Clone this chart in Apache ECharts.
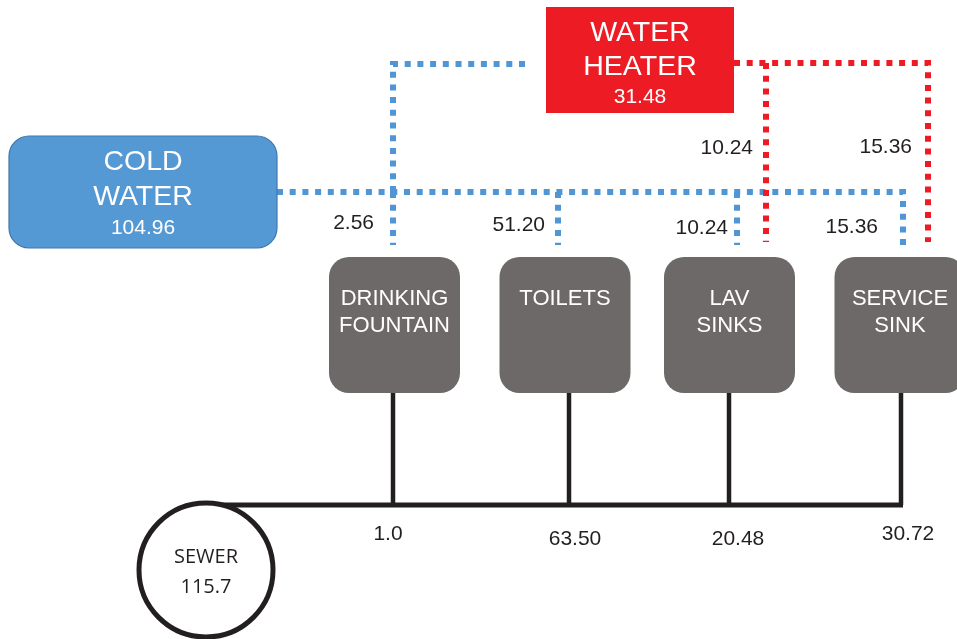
<!DOCTYPE html>
<html>
<head>
<meta charset="utf-8">
<script src="https://cdn.jsdelivr.net/npm/echarts@6/dist/echarts.min.js"></script>
<style>html,body{margin:0;padding:0;background:#fff}#c{width:957px;height:639px}</style>
</head>
<body>
<div id="c"></div>
<script>
// ---- data ----
const fixtures = ['DRINKING\nFOUNTAIN', 'TOILETS', 'LAV\nSINKS', 'SERVICE\nSINK'];
const coldWater = ['2.56', '51.20', '10.24', '15.36'];
const hotWater = [null, null, '10.24', '15.36'];
const drainage = ['1.0', '63.50', '20.48', '30.72'];
const sources = ['COLD\nWATER', 'WATER\nHEATER'];
const sourceTotals = ['104.96', '31.48'];
const sewerName = 'SEWER';
const sewerTotal = '115.7';

// ---- layout (diagram coordinate space, mapped through the axes) ----
const L = {
  box: { top: 257, bottom: 393, w: 131, r: 20, cx: [394.5, 565, 729.5, 900], textY: 299, lineGap: 27 },
  coldDropX: [393, 558, 737, 903],
  hotDropX: [null, null, 766, 928],
  drainX: [393, 569, 729, 901],
  coldMainY: 192, coldDropEnd: 245, feedY: 64, feedX: 525,
  hotMainY: 63, hotDropEnd: 242,
  drainY: 505,
  coldLabel: { x: [374, 545, 728, 878], y: [223, 225, 228, 227] },
  hotLabel: { x: [null, null, 753, 912], y: [null, null, 148, 147] },
  drainLabel: { x: [388, 575, 738, 908], y: [534, 539, 539, 534] },
  srcBox: [ { x0: 9, y0: 136, x1: 277, y1: 248, r: 20, cx: 143, ty: [162, 197, 228] },
            { x0: 546, y0: 7, x1: 734, y1: 113, r: 0, cx: 640, ty: [33, 67, 97] } ],
  sewer: { cx: 206, cy: 570, r: 67, ty: [557, 587] }
};
const C = { blue: '#5096D5', blueBox: '#5599D4', blueEdge: '#3F78AE', red: '#ED1C24', gray: '#6E6969', ink: '#231F20' };
const FONT = 'Liberation Sans, Arial, sans-serif';
const DASH = [6, 6.7];

function seg(api, pts, color) {
  return { type: 'polyline', shape: { points: pts.map(p => api.coord(p)) },
    style: { stroke: color, lineWidth: 6, lineDash: DASH, lineCap: 'butt', fill: null } };
}
function solid(api, pts, w) {
  return { type: 'polyline', shape: { points: pts.map(p => api.coord(p)) },
    style: { stroke: C.ink, lineWidth: w, lineCap: 'butt', lineJoin: 'miter', fill: null } };
}
function txt(api, s, x, y, size, color, align, family) {
  const p = api.coord([x, y]);
  return { type: 'text', x: p[0], y: p[1],
    style: { text: s, fill: color, fontSize: size, fontFamily: family || FONT, align: align || 'center', verticalAlign: 'middle' } };
}
function rrect(api, x0, y0, x1, y1, r, fill, stroke) {
  const a = api.coord([x0, y0]), b = api.coord([x1, y1]);
  return { type: 'rect', shape: { x: Math.min(a[0], b[0]), y: Math.min(a[1], b[1]), width: Math.abs(b[0] - a[0]), height: Math.abs(b[1] - a[1]), r: r },
    style: { fill: fill, stroke: stroke || null, lineWidth: stroke ? 1.2 : 0 } };
}

const chart = echarts.init(document.getElementById('c'), null, { renderer: 'canvas' });
chart.setOption({
  animation: false,
  grid: { left: 0, right: 0, top: 0, bottom: 0 },
  xAxis: { type: 'value', min: 0, max: 957, show: false },
  yAxis: { type: 'value', min: 0, max: 639, inverse: true, show: false },
  series: [
    { // supply mains and sources
      type: 'custom', name: 'sources', z: 2,
      data: sources.map((n, i) => ({ name: n, value: [i, sourceTotals[i]] })),
      renderItem: function (params, api) {
        const i = params.dataIndex, b = L.srcBox[i];
        const kids = [];
        const last = fixtures.length - 1;
        if (i === 0) {
          kids.push(seg(api, [[b.x1, L.coldMainY], [L.coldDropX[last], L.coldMainY], [L.coldDropX[last], L.coldDropEnd]], C.blue));
          kids.push(seg(api, [[L.feedX, L.feedY], [L.coldDropX[0], L.feedY], [L.coldDropX[0], L.coldMainY]], C.blue));
        } else {
          kids.push(seg(api, [[b.x1, L.hotMainY], [L.hotDropX[last], L.hotMainY], [L.hotDropX[last], L.hotDropEnd]], C.red));
        }
        kids.push(rrect(api, b.x0, b.y0, b.x1, b.y1, b.r, i === 0 ? C.blueBox : C.red, i === 0 ? C.blueEdge : null));
        const lines = sources[i].split('\n');
        lines.forEach((s, k) => kids.push(txt(api, s, b.cx, b.ty[k], 28.5, '#fff')));
        kids.push(txt(api, sourceTotals[i], b.cx, b.ty[2], 21, '#fff'));
        return { type: 'group', children: kids };
      }
    },
    { // fixtures with their branches
      type: 'custom', name: 'fixtures', z: 3,
      data: fixtures.map((n, i) => ({ name: n, value: [i, drainage[i]] })),
      renderItem: function (params, api) {
        const i = params.dataIndex, B = L.box, cx = B.cx[i];
        const kids = [];
        const last = fixtures.length - 1;
        if (i < last) kids.push(seg(api, [[L.coldDropX[i], L.coldMainY], [L.coldDropX[i], L.coldDropEnd]], C.blue));
        kids.push(txt(api, coldWater[i], L.coldLabel.x[i], L.coldLabel.y[i], 21, C.ink, 'right'));
        if (hotWater[i] != null) {
          if (i < last) kids.push(seg(api, [[L.hotDropX[i], L.hotMainY], [L.hotDropX[i], L.hotDropEnd]], C.red));
          kids.push(txt(api, hotWater[i], L.hotLabel.x[i], L.hotLabel.y[i], 21, C.ink, 'right'));
        }
        kids.push(solid(api, [[L.drainX[i], B.bottom - 2], [L.drainX[i], L.drainY]], 4.5));
        kids.push(rrect(api, cx - B.w / 2, B.top, cx + B.w / 2, B.bottom, B.r, C.gray));
        fixtures[i].split('\n').forEach((s, k) => kids.push(txt(api, s, cx, B.textY + k * B.lineGap, 22, '#fff')));
        kids.push(txt(api, drainage[i], L.drainLabel.x[i], L.drainLabel.y[i], 21, C.ink));
        return { type: 'group', children: kids };
      }
    },
    { // sewer
      type: 'custom', name: 'sewer', z: 4,
      data: [{ name: sewerName, value: [0, sewerTotal] }],
      renderItem: function (params, api) {
        const S = L.sewer;
        const c = api.coord([S.cx, S.cy]);
        const e = api.coord([S.cx + S.r, S.cy]);
        const kids = [];
        kids.push(solid(api, [[S.cx, L.drainY], [L.drainX[fixtures.length - 1] + 2, L.drainY]], 5));
        kids.push({ type: 'circle', shape: { cx: c[0], cy: c[1], r: Math.abs(e[0] - c[0]) },
          style: { fill: '#fff', stroke: C.ink, lineWidth: 5 } });
        kids.push(txt(api, sewerName, S.cx, S.ty[0], 20, C.ink, 'center', 'Open Sans, sans-serif'));
        kids.push(txt(api, sewerTotal, S.cx, S.ty[1], 20, C.ink, 'center', 'Open Sans, sans-serif'));
        return { type: 'group', children: kids };
      }
    }
  ]
});
</script>
</body>
</html>
